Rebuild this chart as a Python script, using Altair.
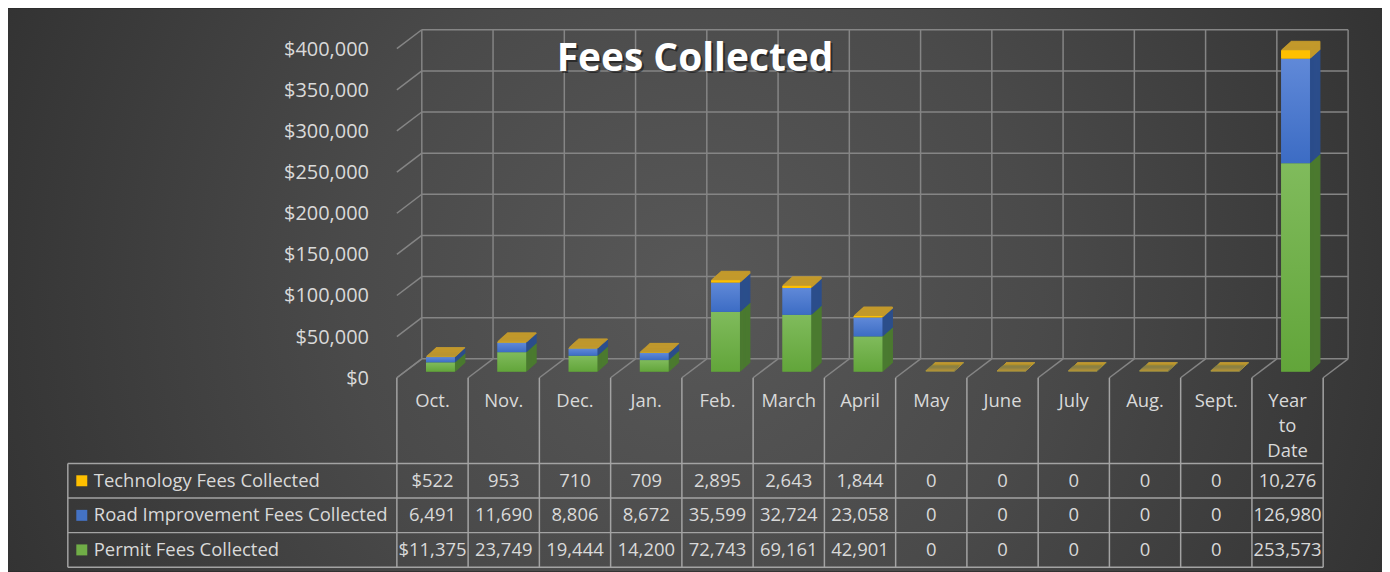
import altair as alt
import pandas as pd

# ---------------- data ----------------
categories = ["Oct.", "Nov.", "Dec.", "Jan.", "Feb.", "March", "April",
              "May", "June", "July", "Aug.", "Sept.", "Year to Date"]
technology = [522, 953, 710, 709, 2895, 2643, 1844, 0, 0, 0, 0, 0, 10276]
road = [6491, 11690, 8806, 8672, 35599, 32724, 23058, 0, 0, 0, 0, 0, 126980]
permit = [11375, 23749, 19444, 14200, 72743, 69161, 42901, 0, 0, 0, 0, 0, 253573]
series_names = ["Technology Fees Collected", "Road Improvement Fees Collected",
                "Permit Fees Collected"]
y_ticks = [0, 50000, 100000, 150000, 200000, 250000, 300000, 350000, 400000]
title_text = "Fees Collected"

# ---------------- layout / style ----------------
W, H = 1378, 564
X0, X1 = 390, 1319          # front plane, category range
Y_ZERO, Y_TOP = 370, 40     # front plane, value range
DX, DY = 25, -19            # depth of the 3D box
TBL_TOP, TBL_BOT = 456, 560
TBL_LEFT = 60
FONT = "Open Sans"
TXT = "#d9d9d9"
GRID = "#858585"
TLINE = "#a3a3a3"
FS = 18.5

front_fill = {
    "Permit Fees Collected": alt.LinearGradient(
        gradient="linear", x1=0, x2=0, y1=0, y2=1,
        stops=[alt.GradientStop(color="#80bb5c", offset=0),
               alt.GradientStop(color="#62a53a", offset=1)]),
    "Road Improvement Fees Collected": alt.LinearGradient(
        gradient="linear", x1=0, x2=0, y1=0, y2=1,
        stops=[alt.GradientStop(color="#6089d8", offset=0),
               alt.GradientStop(color="#3c6cc4", offset=1)]),
    "Technology Fees Collected": "#ffc000",
}
side_fill = {
    "Permit Fees Collected": "#4b7a30",
    "Road Improvement Fees Collected": "#2c4e8c",
    "Technology Fees Collected": "#c39a2c",
}
legend_colors = ["#ffc000", "#4472c4", "#70ad47"]

# ---------------- tables ----------------
vals = {"Technology Fees Collected": technology,
        "Road Improvement Fees Collected": road,
        "Permit Fees Collected": permit}
stack_order = {"Permit Fees Collected": 0, "Road Improvement Fees Collected": 1,
               "Technology Fees Collected": 2}
rows = []
for r, s in enumerate(series_names):
    for c, cat in enumerate(categories):
        v = vals[s][c]
        lab = f"{v:,}"
        if cat == "Oct." and s != "Road Improvement Fees Collected":
            lab = "$" + lab
        rows.append({"category": cat, "series": s, "value": v,
                     "order": stack_order[s], "rowc": r + 0.5, "label": lab})
df = pd.DataFrame(rows)
cat_df = pd.DataFrame({"category": categories})
bound_df = pd.DataFrame({"idx": list(range(len(categories) + 1)), "zero": 0})
tick_df = pd.DataFrame({"v": y_ticks})
row_line_df = pd.DataFrame({"r": [0, 1, 2, 3]})
leg_df = pd.DataFrame({"series": series_names, "rowc": [0.5, 1.5, 2.5]})

# ---------------- scales ----------------
xb = alt.Scale(domain=categories, range=[X0, X1], paddingInner=0, paddingOuter=0)
xq = alt.Scale(domain=[0, len(categories)], range=[X0, X1], nice=False, zero=False)
yq = alt.Scale(domain=[0, 400000], range=[Y_ZERO, Y_TOP], nice=False, zero=False)
yr = alt.Scale(domain=[0, 3], range=[TBL_TOP, TBL_BOT], nice=False, zero=False)

layers = []

# background
bg = alt.Chart(pd.DataFrame({"a": [0]})).mark_rect(
    fill=alt.RadialGradient(
        gradient="radial", x1=0.5, y1=0.5, x2=0.5, y2=0.5, r1=0, r2=0.72,
        stops=[alt.GradientStop(color="#585858", offset=0),
               alt.GradientStop(color="#4a4a4a", offset=0.35),
               alt.GradientStop(color="#252525", offset=1)])
).encode(x=alt.value(0), x2=alt.value(W), y=alt.value(0), y2=alt.value(H))
layers.append(bg)

# back wall horizontal grid lines
layers.append(alt.Chart(tick_df).mark_rule(color=GRID, strokeWidth=1.5, yOffset=DY, y2Offset=DY).encode(
    x=alt.value(X0 + DX), x2=alt.value(X1 + DX),
    y=alt.Y("v:Q", scale=yq, axis=None), y2="v:Q"))
# side wall diagonals
layers.append(alt.Chart(tick_df).mark_rule(color=GRID, strokeWidth=1.5, y2Offset=DY).encode(
    x=alt.value(X0), x2=alt.value(X0 + DX),
    y=alt.Y("v:Q", scale=yq, axis=None), y2="v:Q"))
# back wall vertical grid lines
layers.append(alt.Chart(bound_df).mark_rule(color=GRID, strokeWidth=1.5, xOffset=DX, yOffset=DY, y2Offset=DY).encode(
    x=alt.X("idx:Q", scale=xq, axis=None),
    y=alt.Y("zero:Q", scale=yq, axis=None), y2=alt.datum(400000)))
# floor diagonals
layers.append(alt.Chart(bound_df).mark_rule(color=GRID, strokeWidth=1.5, x2Offset=DX, y2Offset=DY).encode(
    x=alt.X("idx:Q", scale=xq, axis=None), x2="idx:Q",
    y=alt.Y("zero:Q", scale=yq, axis=None), y2="zero:Q"))

# bars (3D sweep)
base = alt.Chart(df).transform_stack(
    stack="value", groupby=["category"], as_=["y0", "y1"],
    sort=[alt.SortField("order", order="ascending")])
draw_order = ["Permit Fees Collected", "Road Improvement Fees Collected",
              "Technology Fees Collected"]
for k in range(10, 0, -1):
    for s in draw_order:
        layers.append(base.transform_filter(alt.datum.series == s).mark_bar(
            width=29, fill=side_fill[s], stroke=side_fill[s], strokeWidth=1,
            xOffset=8 + k, yOffset=-6 - 0.9 * k, y2Offset=-6 - 0.9 * k
        ).encode(x=alt.X("category:N", scale=xb, axis=None, sort=None),
                 y=alt.Y("y0:Q", scale=yq, axis=None), y2="y1:Q"))
for s in draw_order:
    layers.append(base.transform_filter(alt.datum.series == s).mark_bar(
        width=29, fill=front_fill[s], xOffset=8, yOffset=-6, y2Offset=-6
    ).encode(x=alt.X("category:N", scale=xb, axis=None, sort=None),
             y=alt.Y("y0:Q", scale=yq, axis=None), y2="y1:Q"))

# y labels
layers.append(alt.Chart(tick_df).mark_text(align="right", baseline="middle", font=FONT,
                                           fontSize=20, color=TXT).encode(
    x=alt.value(362), y=alt.Y("v:Q", scale=yq, axis=None, ), yOffset=alt.value(1),
    text=alt.Text("v:Q", format="$,.0f")))

# vertical table/category lines
layers.append(alt.Chart(bound_df).mark_rule(color=TLINE, strokeWidth=1.5).encode(
    x=alt.X("idx:Q", scale=xq, axis=None),
    y=alt.Y("zero:Q", scale=yq, axis=None), y2=alt.value(TBL_BOT)))
# table horizontal lines
layers.append(alt.Chart(row_line_df).mark_rule(color=TLINE, strokeWidth=1.5).encode(
    x=alt.value(TBL_LEFT), x2=alt.value(X1),
    y=alt.Y("r:Q", scale=yr, axis=None), y2="r:Q"))
# legend column left border
layers.append(alt.Chart(pd.DataFrame({"a": [0]})).mark_rule(color=TLINE, strokeWidth=1.5).encode(
    x=alt.value(TBL_LEFT), y=alt.value(TBL_TOP), y2=alt.value(TBL_BOT)))

# category labels
layers.append(alt.Chart(cat_df).mark_text(baseline="top", lineBreak=" ", lineHeight=25,
                                          font=FONT, fontSize=FS, color=TXT).encode(
    x=alt.X("category:N", scale=xb, axis=None, sort=None), y=alt.value(384),
    text="category:N"))

# table values
layers.append(alt.Chart(df).mark_text(baseline="middle", font=FONT, fontSize=FS, color=TXT).encode(
    x=alt.X("category:N", scale=xb, axis=None, sort=None),
    y=alt.Y("rowc:Q", scale=yr, axis=None), text="label:N"))

# legend squares + names
layers.append(alt.Chart(leg_df).mark_square(size=121, opacity=1).encode(
    x=alt.value(74), y=alt.Y("rowc:Q", scale=yr, axis=None),
    color=alt.Color("series:N", scale=alt.Scale(domain=series_names, range=legend_colors), legend=None)))
layers.append(alt.Chart(leg_df).mark_text(align="left", baseline="middle", font=FONT,
                                          fontSize=FS, color=TXT).encode(
    x=alt.value(86), y=alt.Y("rowc:Q", scale=yr, axis=None), text="series:N"))

# title with shadow
tdf = pd.DataFrame({"t": [title_text]})
layers.append(alt.Chart(tdf).mark_text(font=FONT, fontSize=39, fontWeight="bold", color="#000000",
                                       opacity=0.45, baseline="alphabetic", dx=2, dy=2).encode(
    x=alt.value(689), y=alt.value(62), text="t:N"))
layers.append(alt.Chart(tdf).mark_text(font=FONT, fontSize=39, fontWeight="bold", color="#ffffff",
                                       baseline="alphabetic").encode(
    x=alt.value(689), y=alt.value(62), text="t:N"))

chart = alt.layer(*layers).resolve_scale(
    x="independent", y="independent", color="independent"
).properties(
    width=W, height=H, padding=0, background="#2a2a2a",
    autosize=alt.AutoSizeParams(type="none")
).configure_view(strokeWidth=0)

chart.save("out.html", embed_options={"renderer": "svg", "actions": False})
